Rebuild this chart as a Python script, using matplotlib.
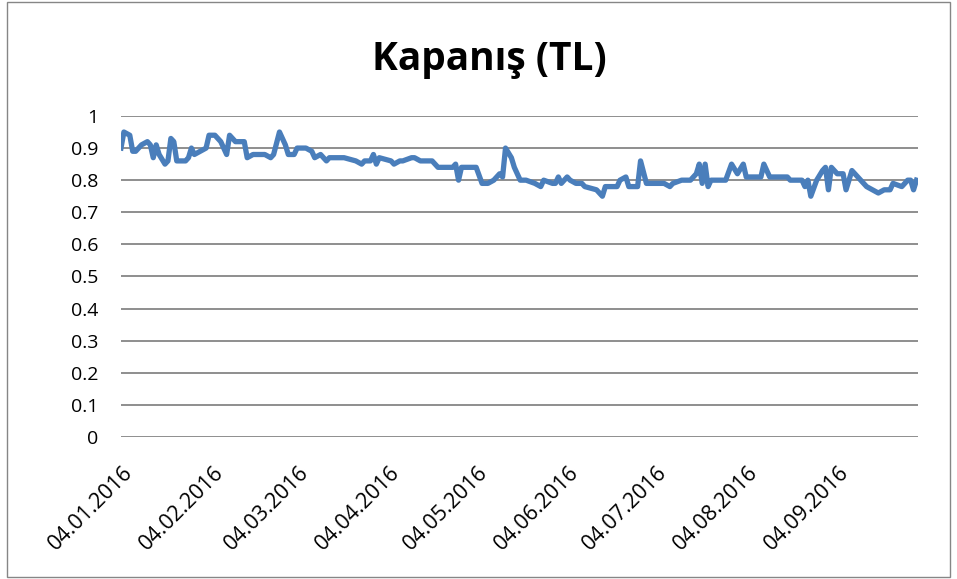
import matplotlib
matplotlib.use("Agg")
import matplotlib.pyplot as plt
import matplotlib.dates as mdates
import matplotlib.transforms as mtransforms
from matplotlib.patches import Rectangle
import pandas as pd

# closing prices (TL)
dates = [
    "2016-01-04", "2016-01-05", "2016-01-07", "2016-01-08", "2016-01-09", "2016-01-11",
    "2016-01-13", "2016-01-14", "2016-01-15", "2016-01-16", "2016-01-17", "2016-01-19",
    "2016-01-20", "2016-01-21", "2016-01-22", "2016-01-23", "2016-01-26", "2016-01-27",
    "2016-01-28", "2016-01-29", "2016-01-31", "2016-02-02", "2016-02-03", "2016-02-05",
    "2016-02-07", "2016-02-09", "2016-02-10", "2016-02-12", "2016-02-15", "2016-02-16",
    "2016-02-18", "2016-02-22", "2016-02-24", "2016-02-25", "2016-02-27", "2016-02-28",
    "2016-02-29", "2016-03-01", "2016-03-03", "2016-03-04", "2016-03-07", "2016-03-09",
    "2016-03-10", "2016-03-12", "2016-03-14", "2016-03-15", "2016-03-20", "2016-03-24",
    "2016-03-26", "2016-03-27", "2016-03-29", "2016-03-30", "2016-03-31", "2016-04-01",
    "2016-04-05", "2016-04-06", "2016-04-08", "2016-04-09", "2016-04-12", "2016-04-13",
    "2016-04-15", "2016-04-19", "2016-04-21", "2016-04-26", "2016-04-27", "2016-04-28",
    "2016-04-29", "2016-05-04", "2016-05-06", "2016-05-08", "2016-05-10", "2016-05-12",
    "2016-05-13", "2016-05-14", "2016-05-16", "2016-05-17", "2016-05-19", "2016-05-21",
    "2016-05-24", "2016-05-26", "2016-05-27", "2016-05-30", "2016-05-31", "2016-06-01",
    "2016-06-02", "2016-06-04", "2016-06-05", "2016-06-07", "2016-06-09", "2016-06-10",
    "2016-06-14", "2016-06-16", "2016-06-17", "2016-06-21", "2016-06-22", "2016-06-24",
    "2016-06-25", "2016-06-28", "2016-06-29", "2016-07-01", "2016-07-07", "2016-07-09",
    "2016-07-10", "2016-07-13", "2016-07-16", "2016-07-18", "2016-07-19", "2016-07-20",
    "2016-07-21", "2016-07-22", "2016-07-23", "2016-07-28", "2016-07-30", "2016-08-01",
    "2016-08-03", "2016-08-04", "2016-08-09", "2016-08-10", "2016-08-12", "2016-08-18",
    "2016-08-19", "2016-08-23", "2016-08-24", "2016-08-25", "2016-08-26", "2016-08-28",
    "2016-08-30", "2016-08-31", "2016-09-01", "2016-09-02", "2016-09-04", "2016-09-06",
    "2016-09-07", "2016-09-09", "2016-09-12", "2016-09-14", "2016-09-18", "2016-09-20",
    "2016-09-22", "2016-09-23", "2016-09-26", "2016-09-28", "2016-09-29", "2016-09-30",
    "2016-10-01",
]
closes = [
    0.90, 0.95, 0.94, 0.89, 0.89, 0.91,
    0.92, 0.91, 0.87, 0.91, 0.88, 0.85,
    0.86, 0.93, 0.92, 0.86, 0.86, 0.87,
    0.90, 0.88, 0.89, 0.90, 0.94, 0.94,
    0.92, 0.88, 0.94, 0.92, 0.92, 0.87,
    0.88, 0.88, 0.87, 0.88, 0.95, 0.93,
    0.91, 0.88, 0.88, 0.90, 0.90, 0.89,
    0.87, 0.88, 0.86, 0.87, 0.87, 0.86,
    0.85, 0.86, 0.86, 0.88, 0.85, 0.87,
    0.86, 0.85, 0.86, 0.86, 0.87, 0.87,
    0.86, 0.86, 0.84, 0.84, 0.85, 0.80,
    0.84, 0.84, 0.79, 0.79, 0.80, 0.82,
    0.81, 0.90, 0.87, 0.84, 0.80, 0.80,
    0.79, 0.78, 0.80, 0.79, 0.79, 0.81,
    0.79, 0.81, 0.80, 0.79, 0.79, 0.78,
    0.77, 0.75, 0.78, 0.78, 0.80, 0.81,
    0.78, 0.78, 0.86, 0.79, 0.79, 0.78,
    0.79, 0.80, 0.80, 0.82, 0.85, 0.79,
    0.85, 0.78, 0.80, 0.80, 0.85, 0.82,
    0.85, 0.81, 0.81, 0.85, 0.81, 0.81,
    0.80, 0.80, 0.78, 0.80, 0.75, 0.80,
    0.83, 0.84, 0.77, 0.84, 0.82, 0.82,
    0.77, 0.83, 0.80, 0.78, 0.76, 0.77,
    0.77, 0.79, 0.78, 0.80, 0.80, 0.77,
    0.80,
]
tick_dates = ["2016-01-04", "2016-02-04", "2016-03-04", "2016-04-04", "2016-05-04",
              "2016-06-04", "2016-07-04", "2016-08-04", "2016-09-04"]
title = "Kapanış (TL)"

plt.rcParams['font.family'] = ['Open Sans', 'DejaVu Sans']

x = pd.to_datetime(dates)
ticks = pd.to_datetime(tick_dates)

fig = plt.figure(figsize=(9.57, 5.79), dpi=100)
ax = fig.add_axes([0.1264, 0.2453, 0.8328, 0.5544])

ax.plot(x, closes, color='#4A7EBB', linewidth=3.8, solid_joinstyle='round')

ax.set_ylim(0, 1)
ax.set_yticks([i / 10 for i in range(11)])
ax.set_yticklabels(['0'] + [f'{i / 10:g}' for i in range(1, 11)])
ax.set_xlim(x[0], x[-1] + pd.Timedelta(hours=12))
ax.set_xticks(ticks)
ax.xaxis.set_major_formatter(mdates.DateFormatter('%d.%m.%Y'))

ax.grid(axis='y', color='#868686', linewidth=1.3)
ax.set_axisbelow(True)
for s in ax.spines.values():
    s.set_visible(False)
ax.tick_params(axis='y', length=0, labelsize=14, pad=16)
ax.tick_params(axis='x', length=0, labelsize=15.5, pad=18)
shift = mtransforms.ScaledTranslation(1 / 100, 0, fig.dpi_scale_trans)
for lab in ax.get_xticklabels():
    lab.set_rotation(45)
    lab.set_ha('right')
    lab.set_rotation_mode('anchor')
    lab.set_transform(lab.get_transform() + shift)

fig.text(0.511, 0.897, title, ha='center', va='center', fontsize=28, fontweight='bold')

# outer chart border
fig.patches.append(Rectangle((0.007, 0.004), 0.986, 0.992, transform=fig.transFigure,
                             fill=False, edgecolor='#868686', linewidth=1))

fig.savefig('out.png', dpi=100)
